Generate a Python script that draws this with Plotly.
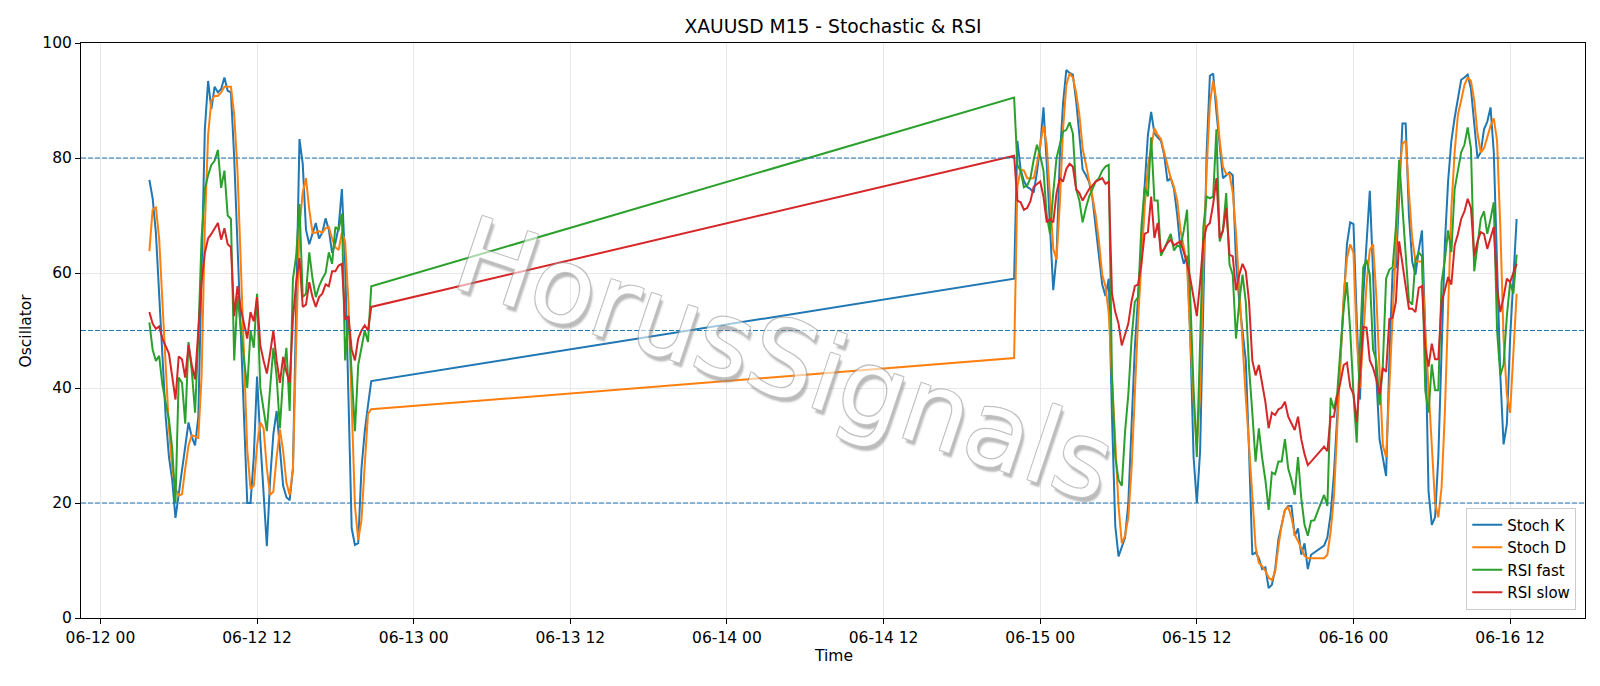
import pandas as pd
import plotly.graph_objects as go

# ---------------- data ----------------
seg1_start = "2020-06-12 03:45"
seg1_count = 69
seg2_start = "2020-06-14 22:00"
seg2_count = 155

stoch_k_1 = [76.2, 73, 67, 57, 46, 35, 28, 24, 17.4, 21.5,
             26, 30.5, 34, 31.5, 30, 35, 60, 85, 93.4, 88.5,
             92.4, 91.4, 92, 94, 91.7, 91.4, 80, 66, 50, 35,
             20, 20, 28, 42, 31, 21, 12.5, 24, 32, 36,
             29, 23, 21, 20.5, 26, 55, 83.3, 79, 67.5, 65,
             67, 68.7, 66, 67, 69.5, 67.5, 63.5, 65.2, 68, 74.6,
             61.6, 39, 15.6, 12.7, 13, 26, 32.4, 37, 41.2]
stoch_d_1 = [63.8, 71, 71.4, 66, 55, 44, 33, 26, 22.5, 21.3,
             21.5, 26, 30, 31.8, 31.5, 31.3, 42, 68, 84, 90,
             90.8, 90.8, 91.4, 92.4, 92.4, 92.4, 87.5, 77.8, 62, 45.4,
             29.2, 22.5, 23, 30, 34, 33, 26, 21.4, 22, 28,
             32.8, 29, 23.5, 21.4, 26, 48, 68, 74, 76.5, 71,
             67, 67, 67.3, 67, 67.8, 68, 66, 64.5, 64, 67,
             65.5, 55, 36, 19.5, 13.6, 17, 26.6, 35.5, 36.3]
rsi_fast_1 = [51.4, 46.7, 44.7, 45.6, 40.5, 37.8, 34.5, 29.5, 20, 41.8,
              40.9, 33.8, 48, 43, 35.7, 49, 66, 74.6, 77, 78.8,
              79.5, 81.4, 74.8, 77.8, 70, 69.4, 44.8, 56, 50, 45,
              40, 50, 47, 56.4, 40, 36, 32.5, 40, 47, 42,
              33, 42, 47, 36, 59, 63, 72, 55.8, 56.4, 63.6,
              59, 55.8, 57.7, 59, 60, 63.6, 61.6, 68, 67.5, 70.3,
              44.8, 52.5, 42, 32.5, 44, 47.3, 50, 48, 57.7]
rsi_slow_1 = [53.2, 51.2, 50.3, 50.7, 48.6, 47.3, 46, 42, 38, 45.5,
              45, 41.8, 47.5, 44, 41.5, 50, 58.4, 63.5, 66, 66.8,
              67.8, 68.7, 65.8, 67.8, 65, 64.5, 52.5, 57.7, 53.8, 51.2,
              48.6, 53.2, 51.6, 55.8, 47.4, 44.8, 42.5, 46, 50, 44.8,
              40.9, 45.4, 42.8, 40.9, 52, 58.4, 62.6, 54.1, 54.5, 58.4,
              55.8, 54.1, 55.8, 56.4, 58, 57.7, 60.3, 60.3, 61.3, 61.6,
              51.9, 52.5, 46.7, 44.8, 48.6, 50, 50.9, 50, 54.1]

stoch_k_2 = [59, 83, 78, 76, 75, 74.6, 74, 77.5, 82, 88.8,
             79, 67, 57, 63, 80, 89.5, 95.3, 94.8, 94.5, 90,
             83.5, 78, 77, 75.8, 73, 68, 63.6, 58, 56, 59,
             35, 16, 10.7, 12.5, 14, 20, 33, 47, 56, 64,
             75, 84, 88, 84.3, 83.6, 83, 80.5, 76, 76.5, 74.6,
             70, 64, 61.6, 63, 48.6, 28, 20, 29, 55, 81,
             94.3, 94.7, 88, 82.3, 76.5, 77, 77.5, 77, 62, 55,
             50, 44.8, 29, 11, 11.4, 10.4, 8.5, 8.8, 5.2, 5.8,
             8.5, 13.7, 16.2, 18.8, 19.5, 19.5, 14.3, 15.6, 11, 13,
             8.5, 11, 11.4, 11.8, 12.2, 12.6, 14, 18, 25, 35,
             46, 56, 65, 68.8, 68.5, 52, 38, 56, 66, 74.3,
             60, 42, 31, 28, 24.7, 45, 60.5, 61, 74, 86,
             86, 70, 62, 59.7, 64, 67.4, 50, 22, 16.2, 17.5,
             28, 45, 65, 76, 83, 87, 90, 93.6, 94, 94.5,
             92, 86, 80, 81, 85, 86.3, 88.8, 81, 61.6, 42.2,
             30.2, 33.7, 48.6, 58.4, 69.4]
stoch_d_2 = [45.2, 75, 78, 77.8, 76.5, 76.5, 76.5, 79, 82, 85.6,
             82.3, 73.3, 64.2, 62.3, 72, 85, 92.7, 94.7, 94, 91.4,
             87.5, 81.7, 79, 75.9, 73.3, 70, 65.5, 59.7, 57.7, 53,
             42, 29, 19.5, 13, 14.3, 17.5, 26, 39, 52, 61.6,
             71.3, 78.5, 82, 85.2, 84, 83.3, 81, 78.5, 76.5, 75,
             72.6, 67.4, 64.2, 61.6, 48.6, 37.6, 29.8, 39, 61.6, 77.8,
             89.5, 93.4, 90, 83, 78.5, 77.2, 77.2, 74, 67, 57,
             47.7, 38.3, 30, 21, 12.4, 9.6, 9, 8.2, 7, 6.6,
             8, 12.5, 16.2, 18.8, 19.3, 17.5, 14.5, 13.4, 12, 10.8,
             10.4, 10.4, 10.4, 10.4, 10.4, 10.4, 11, 15, 21, 32,
             45, 56, 62.5, 65, 63.5, 48.6, 40, 50, 58, 64,
             65, 56, 42, 30, 28, 40, 54, 66, 77, 82.5,
             83, 74, 66, 62, 62, 62, 50, 40, 28, 20,
             17.5, 22.7, 35.7, 55, 71.3, 81, 87.5, 90, 92.7, 94,
             93.4, 90, 84.3, 81, 81.7, 83.6, 85.6, 86.9, 83, 68,
             48.6, 38.9, 35.7, 46, 56.4]
rsi_fast_2 = [90.5, 78.8, 77.8, 74.9, 75.2, 76.5, 79.7, 82.3, 80.4, 77.8,
              70, 66.8, 74, 80, 82.3, 84.6, 84.9, 86.2, 84.3, 74.6,
              72.6, 68.8, 71.3, 73.3, 74.6, 75.9, 76.5, 77.8, 78.5, 78.8,
              42, 28, 24, 23, 32.4, 38.9, 48.6, 55, 55.8, 68,
              74.9, 73.3, 83.6, 72.6, 72.6, 63, 64.2, 65.5, 66.8, 63.9,
              64.8, 64.5, 67.4, 71, 55, 40, 28, 50, 68, 73.3,
              73, 73.3, 85, 65.5, 67.4, 73.9, 61.5, 59.7, 48.6, 55,
              59.7, 55, 43.5, 35.7, 27.2, 33, 27.9, 24, 18.8, 25.3,
              25, 27.2, 27.2, 31.1, 26, 24, 21.4, 28, 20.8, 16.2,
              14.3, 16.9, 17, 18.5, 20, 21.4, 19.5, 38.3, 36.3, 39,
              46.7, 53.8, 58.4, 50, 39, 30.5, 47.4, 61, 62.3, 59.7,
              46.7, 44.8, 37, 44, 59, 60.6, 61, 68, 79.7, 71.3,
              64.2, 55.1, 54.5, 62.3, 63.6, 62.9, 39.6, 35.7, 44.1, 39.6,
              39.6, 58.4, 62.3, 67.4, 63.6, 74.6, 77.8, 81, 82.3, 85.3,
              81.7, 60.3, 64.8, 69.4, 70.7, 66.8, 69.4, 72.3, 50, 42.2,
              44.1, 52.5, 58.4, 56.4, 63.2]
rsi_slow_2 = [80.4, 72.6, 72.3, 71, 71.3, 72.5, 75, 75.5, 75.9, 73.3,
              68.8, 69.4, 68.8, 73.9, 76.5, 75.9, 78.1, 79, 78.5, 74.6,
              73.9, 72.6, 73.6, 74.6, 75.2, 75.9, 76.2, 76.5, 75.5, 75.9,
              56.4, 53.2, 51.2, 47.4, 49.3, 51.2, 55.1, 57.7, 58, 61.6,
              66.8, 67.1, 73.3, 66.1, 68.7, 63.6, 64.2, 65.2, 65.8, 64.8,
              65.2, 65.5, 63.6, 61.6, 59, 55.8, 52.5, 58.4, 65.5, 68.1,
              68.7, 72, 76.5, 66.1, 67.4, 71.3, 63.2, 62.9, 57, 59.7,
              61.6, 60.3, 55, 44.8, 42.2, 44, 40.9, 37.6, 33, 35.7,
              35.3, 36.3, 36.6, 37.6, 35, 33.7, 32.7, 35, 31.1, 28.5,
              26.6, 27.2, 27.9, 28.5, 29.2, 29.8, 29, 35, 35, 38.5,
              41, 44, 44.4, 40.2, 38.9, 34, 42, 50.6, 50.5, 44.8,
              43.5, 41.5, 38.9, 43.5, 42.8, 52, 52.2, 55, 65.5, 61.6,
              58.4, 53.8, 53.8, 53.2, 57.4, 57.7, 47, 43.7, 47.7, 45,
              45, 55, 57, 59.3, 58, 64.8, 66.8, 69.4, 70.7, 72.9,
              71.3, 62.9, 65.5, 67.1, 66.8, 64.2, 66.1, 68, 57.4, 53.2,
              55.8, 59, 58.4, 60, 61.6]

levels = [20, 50, 80]
series_names = ["Stoch K", "Stoch D", "RSI fast", "RSI slow"]
series_colors = ["#1f77b4", "#ff7f0e", "#2ca02c", "#d62728"]

# ---------------- build ----------------
times = pd.date_range(seg1_start, periods=seg1_count, freq="15min").append(
    pd.date_range(seg2_start, periods=seg2_count, freq="15min"))
series = [stoch_k_1 + stoch_k_2, stoch_d_1 + stoch_d_2,
          rsi_fast_1 + rsi_fast_2, rsi_slow_1 + rsi_slow_2]

span = times[-1] - times[0]
x_lo = times[0] - span * 0.05
x_hi = times[-1] + span * 0.05

FONT = "DejaVu Sans"
TICK = 15.5
fig = go.Figure()
for name, col, vals in zip(series_names, series_colors, series):
    fig.add_trace(go.Scatter(x=times, y=vals, mode="lines", name=name,
                             line=dict(color=col, width=2)))

for lv in levels:
    fig.add_shape(type="line", xref="paper", x0=0, x1=1, yref="y", y0=lv, y1=lv,
                  line=dict(color="#1f77b4", width=1.2, dash="5px,2px"), layer="above")

axis_common = dict(showgrid=True, gridcolor="#e8e8e8", gridwidth=1,
                   ticks="outside", ticklen=5, tickwidth=1, tickcolor="black",
                   showline=True, linecolor="black", linewidth=1, mirror=True,
                   zeroline=False, tickfont=dict(family=FONT, size=TICK, color="black"))

fig.update_layout(
    width=1600, height=686,
    margin=dict(l=81, r=15, t=43, b=68),
    paper_bgcolor="white", plot_bgcolor="white",
    font=dict(family=FONT, size=TICK, color="black"),
    title=dict(text="XAUUSD M15 - Stochastic & RSI", x=0.5, xref="paper",
               y=1 - 26 / 686, yref="container", yanchor="middle", xanchor="center",
               font=dict(family=FONT, size=18.7, color="black")),
    xaxis=dict(type="date", range=[x_lo, x_hi], tickformat="%m-%d %H",
               tick0="2020-06-12 00:00", dtick=12 * 3600 * 1000, **axis_common),
    yaxis=dict(range=[0, 100], dtick=20, tick0=0, **axis_common),
    showlegend=True,
    legend=dict(x=0.9942, y=0.0146, xanchor="right", yanchor="bottom",
                bgcolor="white", bordercolor="#cccccc", borderwidth=1,
                font=dict(family=FONT, size=15, color="black"),
                tracegroupgap=0, itemwidth=30),
    hovermode=False,
)

fig.add_annotation(text="Time", xref="paper", yref="paper", x=0.5, y=-0.066,
                   showarrow=False, xanchor="center", yanchor="middle",
                   font=dict(family=FONT, size=TICK, color="black"))
fig.add_annotation(text="Oscillator", xref="paper", yref="paper", x=-0.0366, y=0.5,
                   showarrow=False, textangle=-90, xanchor="center", yanchor="middle",
                   font=dict(family=FONT, size=TICK, color="black"))

# watermark: white letters, thin grey outline, soft grey drop shadow, semi-transparent
outline = "#9a9a9a"
fig.add_annotation(text="HorusSignals", xref="paper", yref="paper", x=0.468, y=0.448,
                   showarrow=False, textangle=18.5, xanchor="center", yanchor="middle",
                   opacity=0.6,
                   font=dict(family=FONT, size=105, color="white",
                             shadow=(f"-1px -1px 0 {outline}, 1px -1px 0 {outline}, "
                                     f"-1px 1px 0 {outline}, 1px 1px 0 {outline}, "
                                     "4px 4px 2px #8f8f8f")))

fig.write_html("out.html", config={"displayModeBar": False})
